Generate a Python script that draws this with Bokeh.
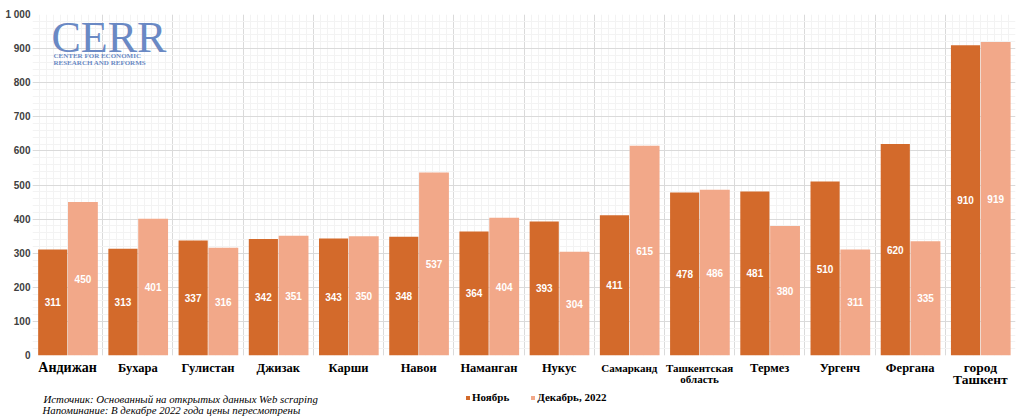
from bokeh.plotting import figure
from bokeh.layouts import column
from bokeh.models import (ColumnDataSource, LabelSet, Label, Range1d,
                          SingleIntervalTicker, Legend, LegendItem)
from bokeh.transform import dodge
from bokeh.core.properties import value
from bokeh.embed import file_html
from bokeh.resources import INLINE

# ---- data ----
cities = ["Андижан", "Бухара", "Гулистан", "Джизак", "Карши", "Навои", "Наманган",
          "Нукус", "Самарканд", "Ташкентская\nобласть", "Термез", "Ургенч",
          "Фергана", "город\nТашкент"]
nov = [311, 313, 337, 342, 343, 348, 364, 393, 411, 478, 481, 510, 620, 910]
dec = [450, 401, 316, 351, 350, 537, 404, 304, 615, 486, 380, 311, 335, 919]
series_names = ["Ноябрь", "Декабрь, 2022"]
y_ticks = [0, 100, 200, 300, 400, 500, 600, 700, 800, 900, 1000]
y_tick_labels = ["0", "100", "200", "300", "400", "500", "600", "700", "800", "900", "1 000"]
source_note = "Источник: Основанный на открытых данных Web scraping"
reminder_note = "Напоминание: В декабре 2022 года цены пересмотрены"

# ---- styles ----
DARK = "#D36A2B"
LIGHT = "#F2A889"
LOGO = "#6A89C4"
label_sizes = ["14px"] + ["12.5px"] * 7 + ["11px", "11px"] + ["12.5px"] * 3 + ["13.5px"]

n = len(cities)
line1 = [c.split("\n")[0] for c in cities]
line2 = [c.split("\n")[1] if "\n" in c else "" for c in cities]
src = ColumnDataSource(dict(
    pos=[i + 0.5 for i in range(n)],   # category slot centres
    line1=line1, line2=line2,
    label_size=label_sizes,
    nov=nov, dec=dec,
    nov_mid=[v / 2 for v in nov],
    dec_mid=[v / 2 for v in dec],
    nov_txt=[str(v) for v in nov],
    dec_txt=[str(v) for v in dec],
))

W = 1024
p = figure(width=W, height=360, x_range=Range1d(0, n), y_range=(0, 1000),
           output_backend="svg", toolbar_location=None,
           min_border_left=32, min_border_right=9, min_border_top=14, min_border_bottom=5)
p.outline_line_color = None
p.xaxis.visible = False

p.xgrid.ticker = SingleIntervalTicker(interval=1, num_minor_ticks=10)
p.xgrid.grid_line_color = "#dadada"
p.xgrid.minor_grid_line_color = "#f3f3f3"

yax = p.yaxis[0]
yax.ticker = y_ticks
yax.major_label_overrides = {t: l for t, l in zip(y_ticks, y_tick_labels)}
yax.axis_line_color = None
yax.major_tick_line_color = None
yax.minor_tick_line_color = None
yax.major_tick_out = 0
yax.major_label_standoff = 2
yax.major_label_text_font = "Liberation Sans"
yax.major_label_text_font_style = "bold"
yax.major_label_text_font_size = "10px"
yax.major_label_text_color = "#404040"
p.ygrid.grid_line_color = "#dadada"
p.ygrid.minor_grid_line_color = "#f3f3f3"
p.ygrid.ticker = SingleIntervalTicker(interval=100, num_minor_ticks=5)

p.vbar(x=dodge("pos", -0.212), top="nov", width=0.415,
       source=src, fill_color=DARK, line_color=None)
p.vbar(x=dodge("pos", 0.218), top="dec", width=0.425,
       source=src, fill_color=LIGHT, line_color=None)

for xo, yf, tf in [(-0.212, "nov_mid", "nov_txt"), (0.218, "dec_mid", "dec_txt")]:
    p.text(x=dodge("pos", xo), y=yf, text=tf, source=src,
           text_color="white", text_font=value("Liberation Sans"),
           text_font_style="bold", text_font_size="10px",
           text_align="center", text_baseline="middle")

# logo
p.add_layout(Label(x=19, y=318, x_units="screen", y_units="screen", text="CERR",
                   text_font="Liberation Serif", text_font_size="44px",
                   text_color=LOGO, text_baseline="middle"))
for txt, yy in [("CENTER FOR ECONOMIC", 299.5), ("RESEARCH AND REFORMS", 293)]:
    p.add_layout(Label(x=21, y=yy, x_units="screen", y_units="screen", text=txt,
                       text_font="Liberation Serif", text_font_style="bold",
                       text_font_size="7px", text_color=LOGO,
                       text_baseline="middle"))

# ---- footer: category labels, legend, notes ----
FH = 418 - 360
f = figure(width=W, height=FH, x_range=p.x_range, y_range=Range1d(FH, 0),
           output_backend="svg", toolbar_location=None,
           min_border_left=32, min_border_right=9, min_border_top=0, min_border_bottom=0)
f.axis.visible = False
f.grid.visible = False
f.outline_line_color = None

for col, yy in [("line1", 7), ("line2", 18.5)]:
    f.add_layout(LabelSet(x="pos", y=yy, text=col, source=src,
                          text_font=value("Liberation Serif"), text_font_style="bold",
                          text_font_size="label_size", text_color="black",
                          text_align="center", text_baseline="middle"))

# zero-height proxies of the two series, only to carry the legend glyphs
g1 = f.vbar(x=dodge("pos", -0.212), top=0, bottom=0, width=0.415, source=src,
            fill_color=DARK, line_color=None)
g2 = f.vbar(x=dodge("pos", 0.218), top=0, bottom=0, width=0.425, source=src,
            fill_color=LIGHT, line_color=None)
legend = Legend(items=[LegendItem(label=series_names[0], renderers=[g1], index=0),
                       LegendItem(label=series_names[1], renderers=[g2], index=0)],
                orientation="horizontal", location=(433, 15),
                glyph_width=5, glyph_height=5, label_standoff=2, spacing=21,
                padding=0, margin=0, background_fill_alpha=0, border_line_color=None,
                label_text_font="Liberation Serif", label_text_font_style="bold",
                label_text_font_size="11px", label_text_color="black", label_height=12)
f.add_layout(legend, "center")

for txt, xx, yy in [(source_note, 11, 38), (reminder_note, 10, 49)]:
    f.add_layout(Label(x=xx, y=yy, x_units="screen", y_units="data", text=txt,
                       text_font="Liberation Serif", text_font_style="italic",
                       text_font_size="10.8px", text_color="black",
                       text_baseline="middle"))

open("out.html", "w").write(file_html(column(p, f, spacing=0), INLINE))
